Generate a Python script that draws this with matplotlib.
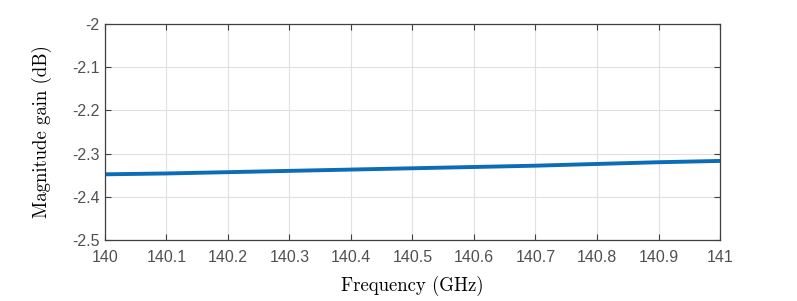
import numpy as np
import matplotlib
matplotlib.use("Agg")
import matplotlib.pyplot as plt

freq = [140.0, 140.1, 140.2, 140.3, 140.4, 140.5, 140.6, 140.7, 140.8, 140.9, 141.0]
gain = [-2.348, -2.346, -2.343, -2.340, -2.337, -2.334, -2.331, -2.328, -2.324, -2.320, -2.317]

xticks = np.round(np.arange(140, 141.01, 0.1), 1)
yticks = np.round(np.arange(-2.5, -1.99, 0.1), 1)

fig = plt.figure(figsize=(7.97, 3.01), dpi=100)
ax = fig.add_axes([0.1317, 0.2027, 0.7717, 0.7176])
ax.plot(freq, gain, color='#0a6db5', linewidth=2.8)

ax.set_xlim(140, 141)
ax.set_ylim(-2.5, -2.0)
ax.set_xticks(xticks)
ax.set_xticklabels(['%g' % t for t in xticks])
ax.set_yticks(yticks)
ax.set_yticklabels(['%g' % t for t in yticks])
ax.grid(True, color='#e0e0e0', linewidth=0.8)
ax.set_axisbelow(True)
ax.tick_params(direction='in', top=True, right=True, length=4, width=0.8,
               color='#404040', labelcolor='#505050', labelsize=11.5)
ax.tick_params(axis='x', pad=7)
ax.tick_params(axis='y', pad=4)
for t in ax.get_xticklabels() + ax.get_yticklabels():
    t.set_family('Liberation Sans')
for s in ax.spines.values():
    s.set_color('#404040')
    s.set_linewidth(0.9)

ax.set_xlabel('Frequency (GHz)', family='cmr10', fontsize=13.5, labelpad=8)
ax.set_ylabel('Magnitude gain (dB)', family='cmr10', fontsize=13.5, labelpad=14)

fig.savefig('out.png', dpi=100)
